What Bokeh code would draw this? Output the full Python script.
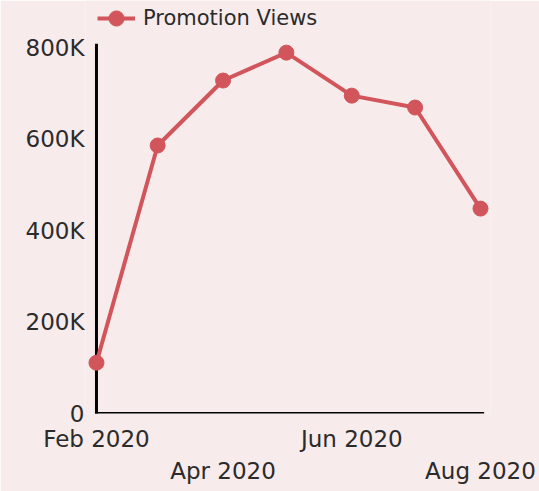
from datetime import datetime
from bokeh.plotting import figure
from bokeh.models import (DatetimeAxis, FixedTicker, DatetimeTickFormatter, Legend,
                          LegendItem, Range1d, ColumnDataSource)
from bokeh.embed import file_html
from bokeh.resources import INLINE

months = ["2020-02", "2020-03", "2020-04", "2020-05", "2020-06", "2020-07", "2020-08"]
views = [111000, 586000, 728000, 789000, 695000, 669000, 448000]
series_name = "Promotion Views"
y_ticks = [0, 200000, 400000, 600000, 800000]
y_tick_labels = ["0", "200K", "400K", "600K", "800K"]
x_ticks_row1 = ["2020-02", "2020-06"]
x_ticks_row2 = ["2020-04", "2020-08"]

FONT = "DejaVu Sans"
TXT = "#2b2b2b"
RED = "#d1555a"
BG = "#f8ebeb"

def to_dt(m):
    return datetime.strptime(m + "-01", "%Y-%m-%d")

def to_ms(m):
    return to_dt(m).timestamp() * 1000

DAY = 86400000
x_first = to_ms(months[0])
x_last = to_ms(months[-1])

src = ColumnDataSource(dict(x=[to_dt(m) for m in months], y=views))

p = figure(width=539, height=491, output_backend="svg", toolbar_location=None,
           x_axis_type=None, y_axis_type="linear",
           background_fill_color=BG, border_fill_color=BG,
           min_border_left=85, min_border_right=49, min_border_top=0, min_border_bottom=78)
p.outline_line_color = None
p.grid.grid_line_color = None
p.x_range = Range1d(x_first - 5.2 * DAY, x_last + 4.74 * DAY)
p.y_range = Range1d(0, 903000)

# axis lines drawn as segments so the end markers are not clipped by the frame
p.segment(x0=[x_first, x_first], y0=[0, 0], x1=[x_last + 1 * DAY, x_first], y1=[0, 805000],
          line_color="black", line_width=3, line_cap="square")

r_line = p.line("x", "y", source=src, line_color=RED, line_width=4)
r_pts = p.scatter("x", "y", source=src, size=15, fill_color=RED, line_color=RED)

ya = p.yaxis[0]
ya.ticker = FixedTicker(ticks=y_ticks)
ya.major_label_overrides = {t: l for t, l in zip(y_ticks, y_tick_labels)}
ya.major_tick_line_color = None
ya.minor_tick_line_color = None
ya.major_tick_out = 0
ya.axis_line_color = None
ya.major_label_text_font = FONT
ya.major_label_text_font_size = "23px"
ya.major_label_text_color = TXT
ya.major_label_standoff = 1

fmt = DatetimeTickFormatter(months="%b %Y", days="%b %Y")
xa1 = DatetimeAxis(ticker=FixedTicker(ticks=[to_ms(m) for m in x_ticks_row1]), formatter=fmt)
xa2 = DatetimeAxis(ticker=FixedTicker(ticks=[to_ms(m) for m in x_ticks_row2]), formatter=fmt)
for a in (xa1, xa2):
    a.major_tick_line_color = None
    a.minor_tick_line_color = None
    a.major_tick_out = 0
    a.axis_line_color = None
    a.major_label_text_font = FONT
    a.major_label_text_font_size = "23px"
    a.major_label_text_color = TXT
xa1.major_label_standoff = 12
xa2.major_label_standoff = 3
p.add_layout(xa1, "below")
p.add_layout(xa2, "below")

legend = Legend(items=[LegendItem(label=series_name, renderers=[r_line, r_pts])],
                orientation="horizontal", location=(12, 376),
                background_fill_alpha=0, border_line_color=None,
                label_text_font=FONT, label_text_font_size="21px", label_text_color=TXT,
                glyph_width=38, glyph_height=38, margin=0, padding=0, label_standoff=8)
p.add_layout(legend, "center")

open("out.html", "w").write(file_html(p, INLINE))
